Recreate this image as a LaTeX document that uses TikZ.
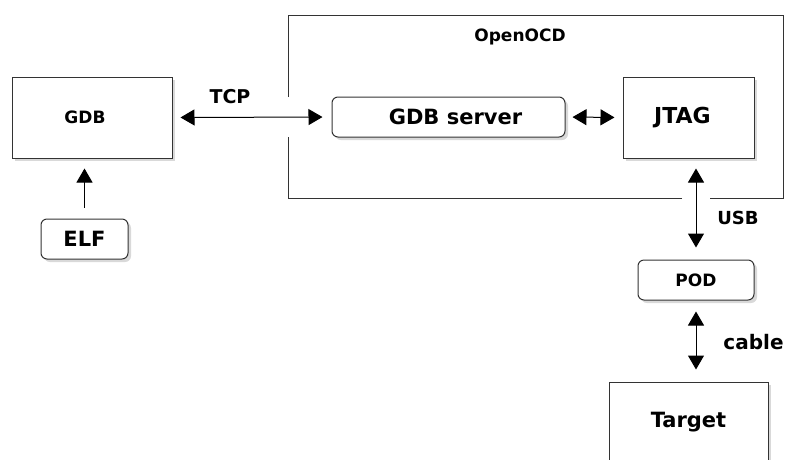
\documentclass[tikz,border=0pt]{standalone}
\usepackage{fontspec}
\setmainfont{DejaVu Sans}
\usetikzlibrary{arrows.meta,shadows}

\newcommand{\sz}[1]{\fontsize{#1}{#1}\selectfont}

\begin{document}
\begin{tikzpicture}[x=1pt,y=-1pt,
  >={Triangle[length=14pt,width=16pt]},
  box/.style={draw=black!80, line width=1pt, fill=white, font=\bfseries,
    drop shadow={shadow xshift=3pt, shadow yshift=-3pt, opacity=0.3}},
  rbox/.style={box, rounded corners=6pt},
  link/.style={line width=1pt, draw=black},
  tag/.style={font=\bfseries}]

\useasboundingbox (0,0) rectangle (788,459);
\clip (0,0) rectangle (788,459);

% OpenOCD frame, open where the links pass
\draw [line width=1pt, black!80](288.5,97) -- (288.5,15) -- (783,15) -- (783,198.5) -- (710,198.5);
\draw [line width=1pt, black!80](682,198.5) -- (288.5,198.5) -- (288.5,137);
\node [tag] (ocd) at (520,37) {\sz{17}OpenOCD};

\node [box, minimum width=160pt, minimum height=81pt] (gdb) at (92,117.5) {\sz{17}\hspace*{-14pt}GDB};
\node [rbox, minimum width=87pt, minimum height=40pt] (elf) at (84.5,239) {\sz{21}ELF};
\node [rbox, minimum width=233pt, minimum height=40pt] (srv) at (448.5,117) {\sz{21}\hspace*{14pt}GDB server};
\node [box, minimum width=131pt, minimum height=81pt] (jtag) at (688.5,117.5) {\sz{22}\hspace*{-12pt}JTAG};
\node [rbox, minimum width=116pt, minimum height=40pt] (pod) at (696,280) {\sz{17}POD};
\node [box, minimum width=159pt, minimum height=80pt] (tgt) at (688.5,422) {\sz{21}Target};

\node [tag] (tcp) at (230,97) {\sz{19}TCP};
\node [tag] (usb) at (738,218) {\sz{18}USB};
\node [tag] (cab) at (753.5,342) {\sz{20}cable};

\draw [link, ->, shorten <=11pt, shorten >=10pt](elf.north) -- (elf.north |- gdb.south);
\draw [link, <->, shorten <=8pt, shorten >=9pt](gdb.east) -- (srv.west);
\draw [link, <->, shorten <=7pt, shorten >=8pt](srv.east) -- (jtag.west);
\draw [link, <->, shorten <=10pt, shorten >=12pt](pod.north |- jtag.south) -- (pod.north);
\draw [link, <->, shorten <=11pt, shorten >=12pt](pod.south) -- (pod.south |- tgt.north);
\end{tikzpicture}
\end{document}
